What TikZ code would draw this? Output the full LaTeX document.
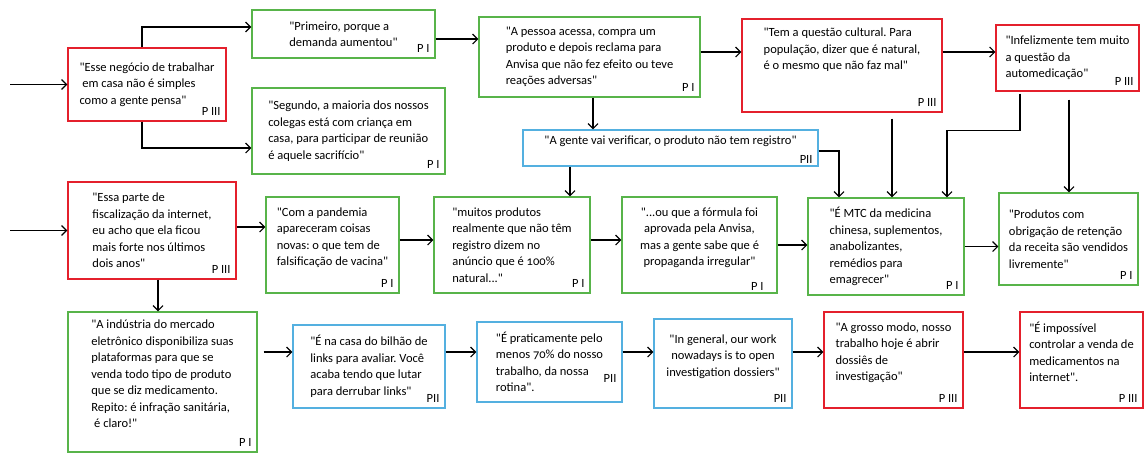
\documentclass[tikz,border=0pt]{standalone}
\usepackage{fontspec}
\setmainfont{Carlito}[Ligatures=TeXOff, Numbers=OldStyle]
\usetikzlibrary{arrows.meta}
\definecolor{qred}{RGB}{228,32,44}
\definecolor{qgreen}{RGB}{88,180,74}
\definecolor{qblue}{RGB}{84,176,224}
\frenchspacing

\begin{document}
\begin{tikzpicture}[x=1pt, y=-1pt,
	qbox/.style={draw, line width=1.4pt, align=left, inner sep=0pt, font=\fontsize{12.5}{16.5}\selectfont},
	redq/.style={qbox, draw=qred},
	greenq/.style={qbox, draw=qgreen},
	blueq/.style={qbox, draw=qblue},
	sz/.style 2 args={minimum width=#1pt, minimum height=#2pt},
	tag/.style={anchor=south east, inner sep=6pt, font=\fontsize{12.5}{14}\selectfont},
	arr/.style={line width=1.1pt, -{Straight Barb[length=5pt, width=10pt]}}]
	\useasboundingbox (0,0) rectangle (1144,453);

	\node [redq, sz={158}{73}] (a) at (147,84.5) {"Esse negócio de trabalhar\\\ em casa não é simples\\como a gente pensa"};
	\node [greenq, sz={183}{48}] (b) at (343.5,34) {"Primeiro, porque a\\demanda aumentou"};
	\node [greenq, sz={193}{86}] (c) at (348.5,131) {"Segundo, a maioria dos nossos\\colegas está com criança em\\casa, para participar de reunião\\é aquele sacrifício"};
	\node [greenq, sz={221}{80}] (d) at (589.5,57) {"A pessoa acessa, compra um\\produto e depois reclama para\\Anvisa que não fez efeito ou teve\\reações adversas"};
	\node [blueq, sz={295}{36}, align=center] (e) at (670.5,148) {"A gente vai verificar, o produto não tem registro"\\\mbox{}};
	\node [redq, sz={200}{93}] (f) at (842,65.5) {"Tem a questão cultural. Para\\população, dizer que é natural,\\é o mesmo que não faz mal"\\\mbox{}\\\mbox{}};
	\node [redq, sz={143}{66}] (g) at (1067.5,58) {"Infelizmente tem muito\\a questão da\\automedicação"};

	\node [redq, sz={168}{97}] (h) at (152,230.5) {"Essa parte de\\fiscalização da internet,\\eu acho que ela ficou\\mais forte nos últimos\\dois anos"};
	\node [greenq, sz={133}{96}] (i) at (332.5,245) {"Com a pandemia\\apareceram coisas\\novas: o que tem de\\falsificação de vacina"\\\mbox{}};
	\node [greenq, sz={156}{96}] (j) at (512,245) {"muitos produtos\\realmente que não têm\\registro dizem no\\anúncio que é 100\%\\natural..."};
	\node [greenq, sz={155}{96}, align=center] (k) at (699.5,245) {"...ou que a fórmula foi\\aprovada pela Anvisa,\\mas a gente sabe que é\\propaganda irregular"\\\mbox{}};
	\node [greenq, sz={156}{97}] (l) at (886,246.5) {"É MTC da medicina\\chinesa, suplementos,\\anabolizantes,\\remédios para\\emagrecer"};
	\node [greenq, sz={139}{92}] (m) at (1068.5,239) {"Produtos com\\obrigação de retenção\\da receita são vendidos\\livremente"};

	\node [greenq, sz={189}{140}] (n) at (162.5,382) {"A indústria do mercado\\eletrônico disponibiliza suas\\plataformas para que se\\venda todo tipo de produto\\que se diz medicamento.\\Repito: é infração sanitária,\\\ é claro!"\\\mbox{}};
	\node [blueq, sz={152}{83}] (o) at (369,366.5) {"É na casa do bilhão de\\links para avaliar. Você\\acaba tendo que lutar\\para derrubar links"};
	\node [blueq, sz={145}{80}] (p) at (549.5,362) {"É praticamente pelo\\menos 70\% do nosso\\trabalho, da nossa\\rotina".\hspace{40pt}};
	\node [blueq, sz={138}{89}, align=center] (q) at (723,363.5) {"In general, our work\\nowadays is to open\\investigation dossiers"\\\mbox{}};
	\node [redq, sz={139}{96}] (r) at (893.5,360) {"A grosso modo, nosso\\trabalho hoje é abrir\\dossiês de\\investigação"\\\mbox{}};
	\node [redq, sz={123}{96}] (s) at (1081.5,360) {"É impossível\\controlar a venda de\\medicamentos na\\internet".\\\mbox{}};

	\node [tag] (aTag) at (a.south east) {P III};
	\node [tag] (bTag) at (b.south east) {P I};
	\node [tag] (cTag) at (c.south east) {P I};
	\node [tag] (dTag) at (d.south east) {P I};
	\node [tag, inner ysep=3pt] (eTag) at (e.south east) {PII};
	\node [tag] (fTag) at (f.south east) {P III};
	\node [tag] (gTag) at (g.south east) {P III};
	\node [tag] (hTag) at (h.south east) {P III};
	\node [tag] (iTag) at (i.south east) {P I};
	\node [tag] (jTag) at (j.south east) {P I};
	\node [tag, inner ysep=3pt] (kTag) at ([xshift=-8pt]k.south east) {P I};
	\node [tag] (lTag) at (l.south east) {P I};
	\node [tag] (mTag) at (m.south east) {P I};
	\node [tag] (nTag) at (n.south east) {P I};
	\node [tag] (oTag) at (o.south east) {PII};
	\node [tag] (pTag) at ([yshift=14pt]p.south east) {PII};
	\node [tag] (qTag) at (q.south east) {PII};
	\node [tag] (rTag) at (r.south east) {P III};
	\node [tag] (sTag) at (s.south east) {P III};

	\coordinate (inA) at (10,84.5);
	\coordinate (inH) at (10,230.5);

	\draw [arr] (inA) -- (a);
	\draw [arr] ([xshift=-5pt]a.north) |- ([yshift=7pt]b.west);
	\draw [arr] ([xshift=-5pt]a.south) |- ([yshift=-17pt]c.west);
	\draw [arr] ([yshift=-5pt]b.east) -- ([yshift=-5pt]b.east -| d.west);
	\draw [arr] ([yshift=5pt]d.east) -- ([yshift=5pt]d.east -| f.west);
	\draw [arr] ([yshift=13.5pt]f.east) -- ([yshift=13.5pt]f.east -| g.west);
	\draw [arr] ([xshift=3.5pt]d.south) -- ([xshift=3.5pt]d.south |- e.north);
	\draw [arr] ([xshift=-100.5pt]e.south) -- ([xshift=58pt]j.north);
	\draw [arr] ([yshift=-3pt]e.east) -| ([xshift=-47pt]l.north);
	\draw [arr, shorten <=6pt] ([xshift=50pt]f.south) -- ([xshift=6pt]l.north);
	\draw [arr, shorten <=2pt] ([xshift=-47.5pt]g.south) -- ++(0,39) -| ([xshift=61pt]l.north);
	\draw [arr, shorten <=8pt] ([xshift=1.5pt]g.south) -- ([xshift=1.5pt]g.south |- m.north);

	\draw [arr] (inH) -- (h);
	\draw [arr] ([yshift=3.5pt]h.east) -- ([yshift=3.5pt]h.east -| i.west);
	\draw [arr] ([yshift=5pt]i.east) -- ([yshift=5pt]i.east -| j.west);
	\draw [arr] ([yshift=5pt]j.east) -- ([yshift=5pt]j.east -| k.west);
	\draw [arr] (k.east) -- (k.east -| l.west);
	\draw [arr] (l.east) -- (l.east -| m.west);
	\draw [arr] ([xshift=6pt]h.south) -- ([xshift=6pt]h.south |- n.north);

	\draw [arr, shorten <=6pt] ([yshift=30pt]n.east) -- ([yshift=30pt]n.east -| o.west);
	\draw [arr] ([yshift=14.5pt]o.east) -- ([yshift=14.5pt]o.east -| p.west);
	\draw [arr] ([yshift=10pt]p.east) -- ([yshift=10pt]p.east -| q.west);
	\draw [arr] ([yshift=11.5pt]q.east) -- ([yshift=11.5pt]q.east -| r.west);
	\draw [arr] ([yshift=8pt]r.east) -- ([yshift=8pt]r.east -| s.west);
\end{tikzpicture}
\end{document}
